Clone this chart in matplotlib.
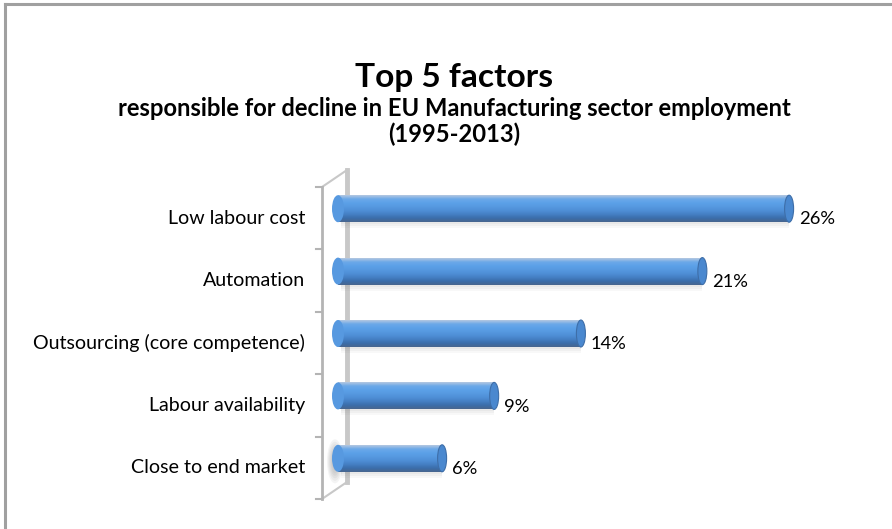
import numpy as np
import matplotlib
matplotlib.use("Agg")
import matplotlib.pyplot as plt
from matplotlib.patches import Ellipse, Rectangle
from matplotlib.lines import Line2D

# factors and their share of the employment decline
factors = ["Low labour cost", "Automation", "Outsourcing (core competence)",
           "Labour availability", "Close to end market"]
shares = [26, 21, 14, 9, 6]

plt.rcParams['font.family'] = ['Lato', 'DejaVu Sans']

W, H = 892, 529
fig = plt.figure(figsize=(W / 100, H / 100), dpi=100)
fig.patch.set_facecolor("white")
renderer = fig.canvas.get_renderer()


def fit_width(t, width_px):
    # scale a text's font size so it spans width_px pixels
    bb = t.get_window_extent(renderer)
    t.set_fontsize(t.get_fontsize() * width_px / bb.width)
    return t.get_fontsize()


# frame on top and left edge
fig.add_artist(Line2D([5 / W, 5 / W], [0, 1 - 4 / H], color="#a0a0a0", lw=2.2))
fig.add_artist(Line2D([5 / W, 1], [1 - 4 / H, 1 - 4 / H], color="#a0a0a0", lw=2.2))

cx = 454 / W
t1 = fig.text(cx, 1 - 77 / H, "Top 5 factors", ha="center", va="center",
              fontsize=20, fontweight="bold")
fit_width(t1, 198)
t2 = fig.text(cx, 1 - 109 / H, "responsible for decline in EU Manufacturing sector employment",
              ha="center", va="center", fontsize=16, fontweight="bold")
sub_fs = fit_width(t2, 678)
fig.text(cx, 1 - 134 / H, "(1995-2013)", ha="center", va="center",
         fontsize=sub_fs, fontweight="bold")

# axes: front axis at x=322px, plot from y=187px to y=499px
ax_l, ax_r, ax_t, ax_b = 322, 880, 187, 499
ax = fig.add_axes([ax_l / W, 1 - ax_b / H, (ax_r - ax_l) / W, (ax_b - ax_t) / H])
ax.set_facecolor("none")
px = 17.35  # pixels per percent
x0 = -16 / px
ax.set_xlim(x0, x0 + (ax_r - ax_l) / px)
ax.set_ylim(-0.5, len(factors) - 0.5)
for s in ax.spines.values():
    s.set_visible(False)
ax.set_xticks([])
ax.set_yticks([])

ypos = np.arange(len(factors))[::-1]
slot = (ax_b - ax_t) / len(factors)
off = 9.5 / slot         # cylinders sit a bit above the slot centre
bh = 27 / slot           # cylinder thickness
cap_w = 9 / px           # depth of the end cap

# back wall and floor edges of the 3D frame
dx, dy = 25 / px, 17 / slot
wall = "#c8c8c8"
ax.plot([x0 + dx, x0 + dx], [-0.5 + dy, 4.5 + dy], color=wall, lw=3.5, clip_on=False, zorder=1)
ax.plot([x0, x0 + dx], [4.5, 4.5 + dy], color=wall, lw=1.5, clip_on=False, zorder=1)
ax.plot([x0, x0 + dx], [-0.5, -0.5 + dy], color=wall, lw=1.5, clip_on=False, zorder=1)
ax.plot([x0, x0], [-0.5, 4.5], color="#b4b4b4", lw=2, clip_on=False, zorder=1)
for t in np.arange(-0.5, 5, 1):
    ax.plot([x0 - 6 / px, x0], [t, t], color="#b4b4b4", lw=1.5, clip_on=False, zorder=1)

# vertical shading of a cylinder
shade = np.array([
    [0.70, 0.78, 0.88], [0.42, 0.66, 0.91], [0.36, 0.63, 0.91], [0.34, 0.60, 0.88],
    [0.31, 0.56, 0.84], [0.27, 0.50, 0.77], [0.23, 0.43, 0.67], [0.28, 0.40, 0.56],
])
grad = np.interp(np.linspace(0, 1, 64), np.linspace(0, 1, len(shade)), np.arange(len(shade)))
img = np.array([shade[int(np.floor(g))] * (1 - g % 1) + shade[min(int(np.floor(g)) + 1, len(shade) - 1)] * (g % 1)
                for g in grad])[:, None, :]

# shadow of the lowest cylinder's end falling on the wall
for k in range(6):
    ax.add_patch(Ellipse((-3 / px, ypos[-1] + off - 3 / slot), (16 - 2 * k) / px, (44 - 5 * k) / slot,
                         color="#505050", alpha=0.06, lw=0, zorder=2))

bars = ax.barh(ypos + off, shares, height=bh, color="none", zorder=3)
for b, v, y in zip(bars, shares, ypos):
    yc = y + off
    # soft shadow under the cylinder
    for k, a in enumerate([0.05, 0.05, 0.04]):
        ax.add_patch(Rectangle((0.2, yc - bh / 2 - (2 + k * 2) / slot), v - 0.2, bh,
                               color="#606060", alpha=a, lw=0, zorder=2))
    im = ax.imshow(img, extent=[0, v, yc - bh / 2, yc + bh / 2], aspect="auto",
                   interpolation="bilinear", zorder=3)
    im.set_clip_path(b)
    # rounded left end and right cap
    ax.add_patch(Ellipse((0, yc), 12 / px, bh, color=shade[3], lw=0, zorder=3))
    ax.add_patch(Ellipse((v, yc), cap_w, bh, facecolor="#4a88cf", edgecolor="#3e6ea8",
                         lw=0.8, zorder=4))

val_fs = None
for v, y in zip(shares, ypos):
    t = ax.text(v + 9.5 / px, y - 0.02, f"{v}%", ha="left", va="center", fontsize=14, zorder=5)
    if val_fs is None:
        val_fs = fit_width(t, 36)
    t.set_fontsize(val_fs)

lab = [ax.text(x0 - 17 / px, y, f, ha="right", va="center", fontsize=14)
       for f, y in zip(factors, ypos)]
lab_fs = fit_width(lab[2], 273)
for t in lab:
    t.set_fontsize(lab_fs)

fig.savefig("out.png", dpi=100)
